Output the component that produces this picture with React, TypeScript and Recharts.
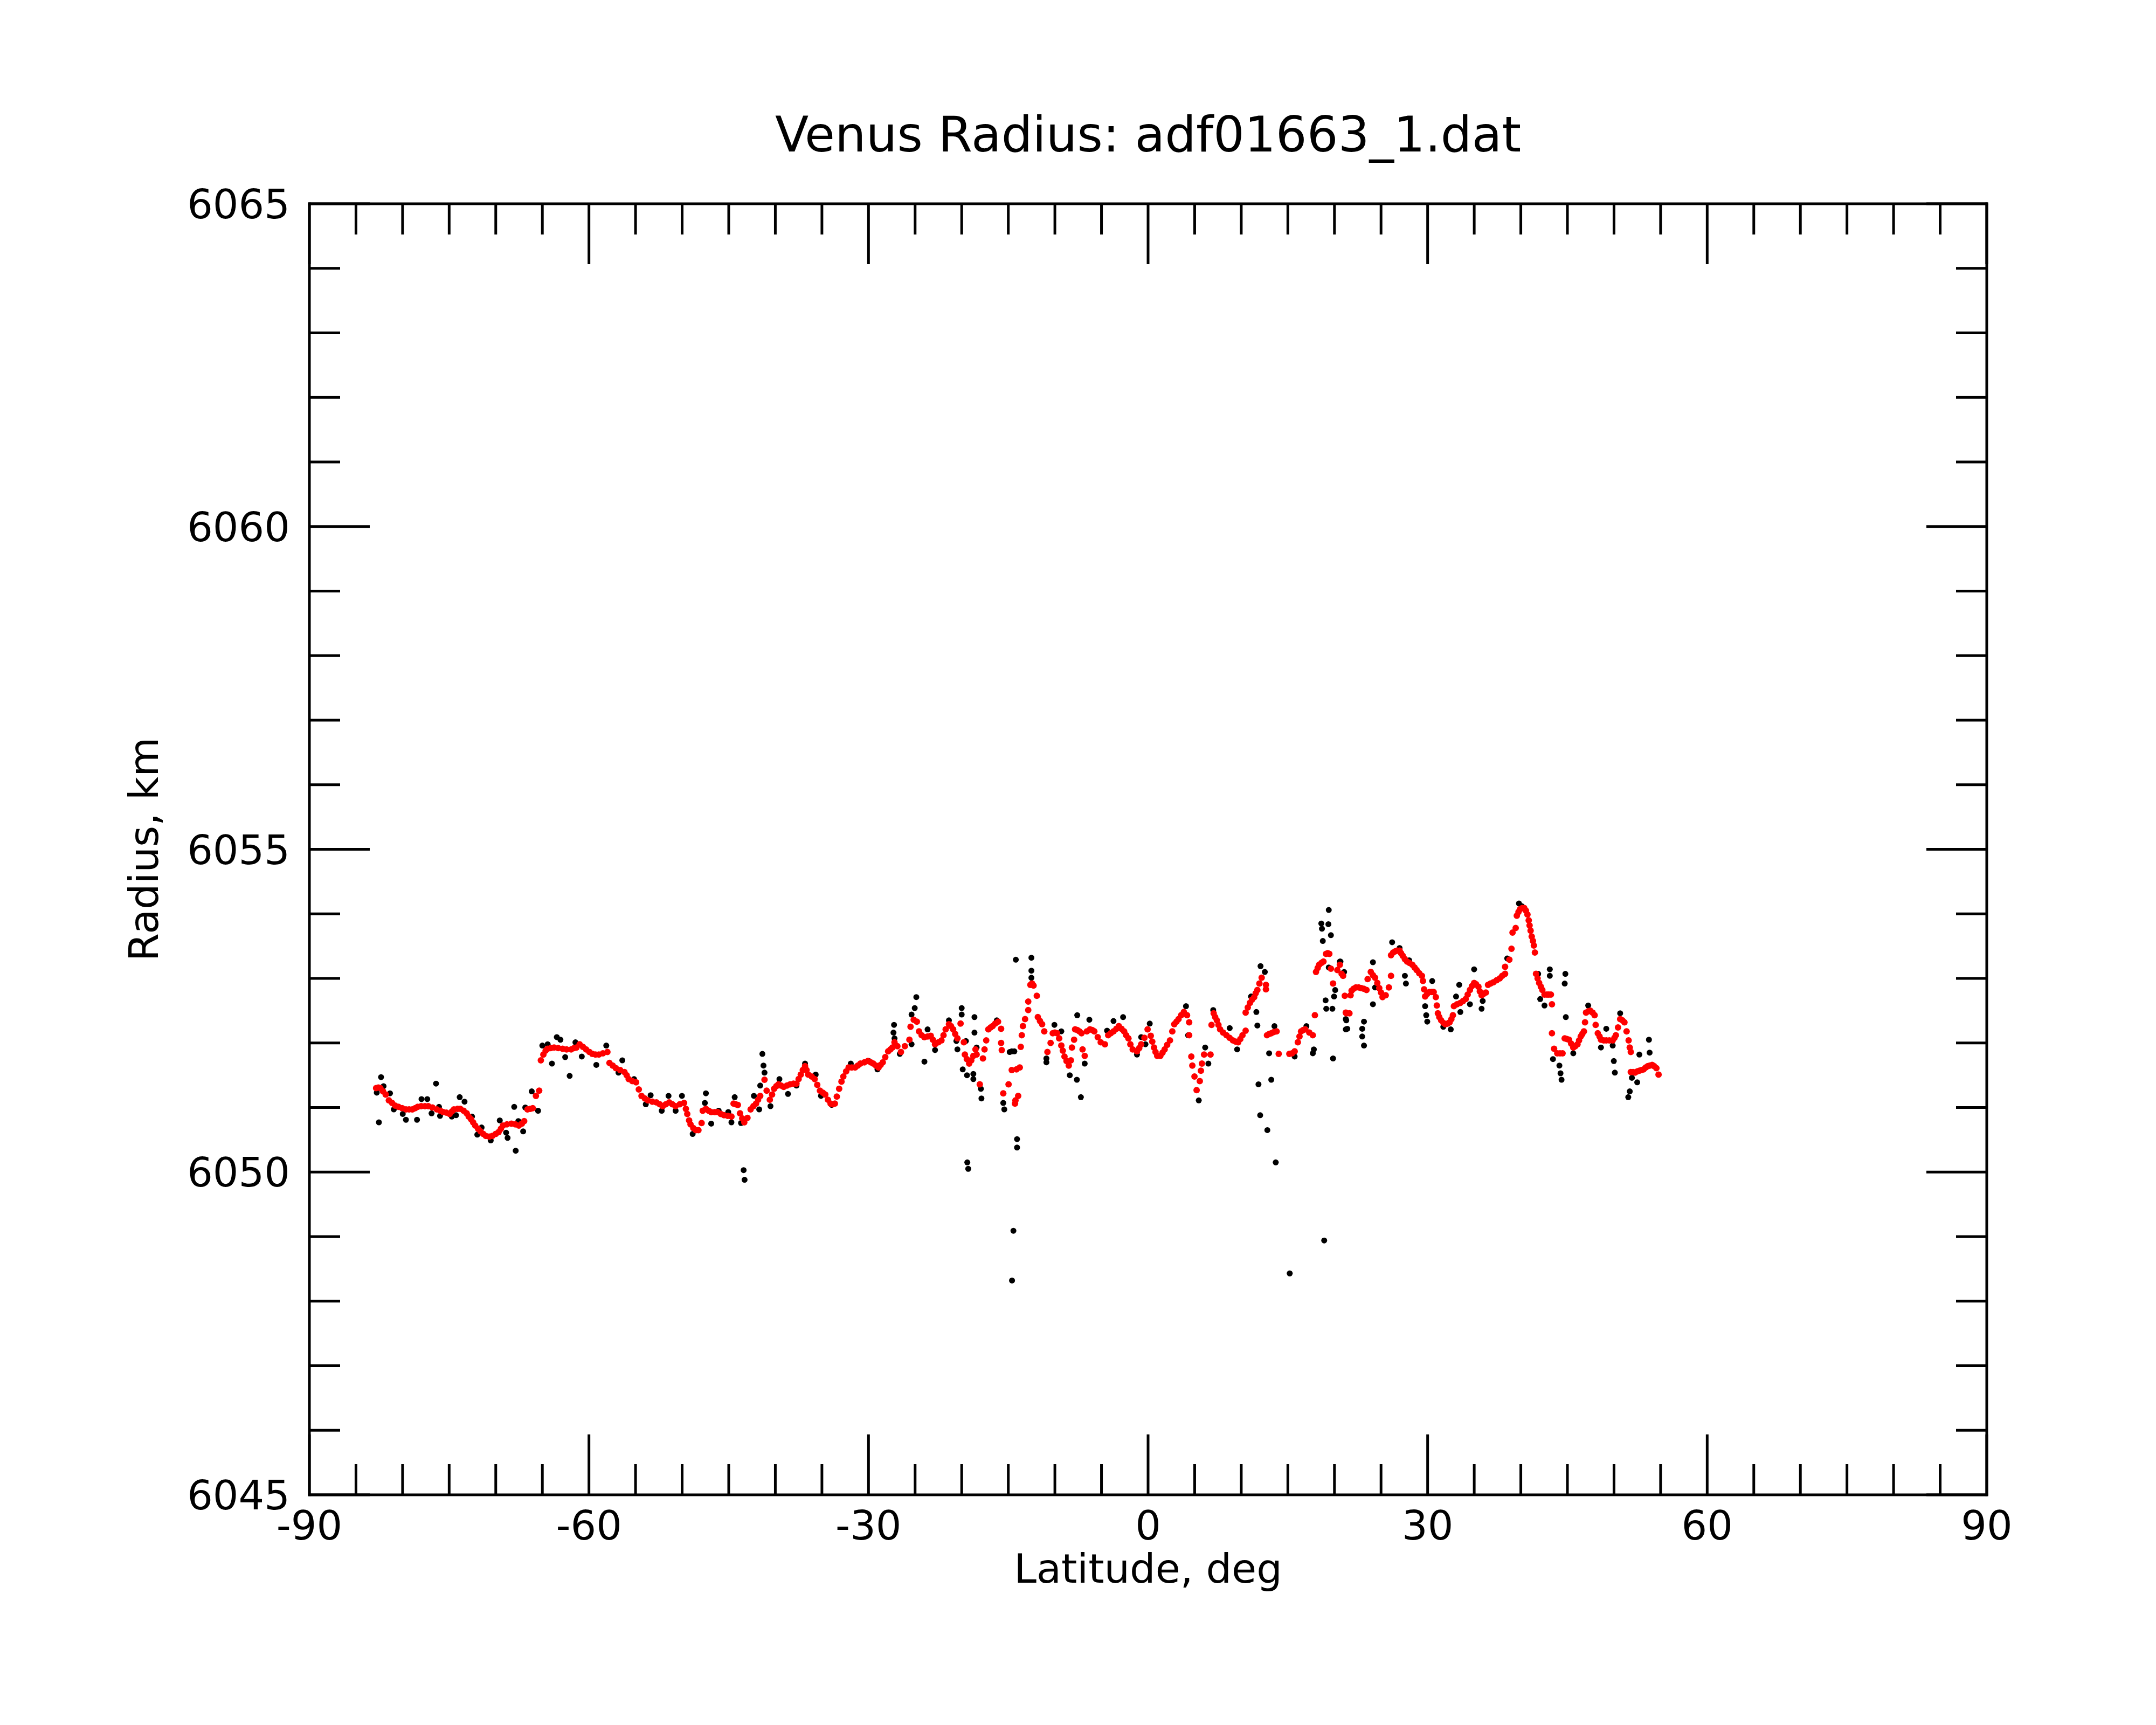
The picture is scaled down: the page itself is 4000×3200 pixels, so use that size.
import React from 'react';
import { ScatterChart, Scatter, XAxis, YAxis } from 'recharts';

const chartTitle = 'Venus Radius: adf01663_1.dat';
const xLabel = 'Latitude, deg';
const yLabel = 'Radius, km';

const latTicks = [
  -90, -85, -80, -75, -70, -65, -60, -55, -50, -45, -40, -35, -30, -25, -20, -15, -10, -5,
  0, 5, 10, 15, 20, 25, 30, 35, 40, 45, 50, 55, 60, 65, 70, 75, 80, 85, 90,
];
const radiusTicks = [
  6045, 6046, 6047, 6048, 6049, 6050, 6051, 6052, 6053, 6054, 6055,
  6056, 6057, 6058, 6059, 6060, 6061, 6062, 6063, 6064, 6065,
];

// smoothed profile (red), [latitude, radius]
const smoothSouth: [number, number][] = [
  [-82.84, 6051.30], [-82.6, 6051.31], [-82.38, 6051.30], [-82.1, 6051.25], [-81.81, 6051.20],
  [-81.47, 6051.11], [-81.13, 6051.07], [-80.8, 6051.03], [-80.44, 6051.01], [-80.05, 6050.99],
  [-79.64, 6050.97], [-79.3, 6050.97], [-78.95, 6050.97], [-78.65, 6050.99], [-78.38, 6051.01],
  [-78.0, 6051.02], [-77.6, 6051.02], [-77.24, 6051.02], [-76.8, 6051.00], [-76.32, 6050.97],
  [-75.95, 6050.95], [-75.64, 6050.93], [-75.3, 6050.92], [-74.95, 6050.90], [-74.7, 6050.94],
  [-74.49, 6050.97], [-74.1, 6050.98], [-73.81, 6050.98], [-73.45, 6050.95], [-73.12, 6050.91],
  [-72.9, 6050.86], [-72.66, 6050.82], [-72.43, 6050.77], [-72.21, 6050.72], [-71.9, 6050.67],
  [-71.63, 6050.63], [-71.35, 6050.59], [-71.06, 6050.56], [-70.7, 6050.55], [-70.38, 6050.56],
  [-70.0, 6050.59], [-69.69, 6050.62], [-69.45, 6050.67], [-69.23, 6050.72], [-68.8, 6050.74],
  [-68.32, 6050.75], [-67.9, 6050.74], [-67.52, 6050.72], [-67.2, 6050.75], [-66.95, 6050.79],
  [-66.6, 6050.97], [-66.3, 6050.98], [-66.03, 6050.99], [-65.69, 6051.18], [-65.34, 6051.26],
  [-65.16, 6051.73], [-64.89, 6051.82], [-64.65, 6051.88], [-64.43, 6051.91], [-64.1, 6051.92],
  [-63.74, 6051.93], [-63.3, 6051.92], [-62.83, 6051.91], [-62.4, 6051.90], [-61.91, 6051.90],
  [-61.6, 6051.92], [-61.34, 6051.93], [-61.0, 6051.98], [-60.65, 6051.94], [-60.31, 6051.90],
  [-59.95, 6051.86], [-59.63, 6051.83], [-59.3, 6051.82], [-58.94, 6051.82], [-58.5, 6051.84],
  [-58.02, 6051.86], [-57.8, 6051.69], [-57.45, 6051.65], [-57.11, 6051.61], [-56.65, 6051.58],
  [-56.19, 6051.55], [-55.95, 6051.50], [-55.74, 6051.44], [-55.35, 6051.41], [-54.94, 6051.39],
  [-54.65, 6051.28], [-54.36, 6051.18], [-54.0, 6051.14], [-53.68, 6051.11], [-53.2, 6051.09],
  [-52.76, 6051.08], [-52.4, 6051.05], [-52.08, 6051.02], [-51.75, 6051.05], [-51.39, 6051.08],
  [-51.05, 6051.05], [-50.7, 6051.02], [-50.25, 6051.05], [-49.79, 6051.07], [-49.6, 6050.98],
  [-49.45, 6050.90], [-49.25, 6050.80], [-49.1, 6050.74], [-48.8, 6050.68], [-48.53, 6050.65],
  [-48.25, 6050.65],
];

const smoothMid: [number, number][] = [
  [-47.91, 6050.76], [-47.79, 6050.95], [-47.45, 6050.98], [-47.15, 6050.95], [-46.88, 6050.93],
  [-46.5, 6050.93], [-46.19, 6050.93], [-45.85, 6050.90], [-45.51, 6050.88], [-45.1, 6050.87],
  [-44.71, 6050.86], [-44.48, 6051.06], [-44.25, 6051.05], [-44.02, 6051.04], [-43.79, 6050.91],
  [-43.55, 6050.83], [-43.33, 6050.77], [-42.99, 6050.84], [-42.65, 6050.97], [-42.35, 6051.02],
  [-42.07, 6051.06], [-41.85, 6051.12], [-41.62, 6051.18], [-41.16, 6051.43], [-40.93, 6051.26],
  [-40.59, 6051.12], [-40.35, 6051.20], [-40.13, 6051.29], [-39.9, 6051.33], [-39.67, 6051.36],
  [-39.4, 6051.34], [-39.1, 6051.32], [-38.75, 6051.34], [-38.41, 6051.36], [-38.05, 6051.37],
  [-37.73, 6051.37], [-37.5, 6051.44], [-37.27, 6051.51], [-37.05, 6051.58], [-36.81, 6051.64],
  [-36.65, 6051.58], [-36.47, 6051.51], [-36.1, 6051.48], [-35.78, 6051.44], [-35.5, 6051.35],
  [-35.21, 6051.26], [-34.9, 6051.23], [-34.64, 6051.20], [-34.35, 6051.12], [-34.07, 6051.06],
  [-33.84, 6051.05], [-33.61, 6051.06], [-33.4, 6051.17], [-33.15, 6051.29], [-32.9, 6051.40],
  [-32.7, 6051.48], [-32.4, 6051.56], [-32.13, 6051.62], [-31.8, 6051.62], [-31.44, 6051.62],
  [-31.15, 6051.65], [-30.87, 6051.68], [-30.45, 6051.70], [-30.07, 6051.72], [-29.75, 6051.70],
  [-29.49, 6051.68], [-29.2, 6051.65], [-28.92, 6051.62], [-28.7, 6051.66], [-28.47, 6051.70],
  [-28.2, 6051.78], [-27.89, 6051.87], [-27.65, 6051.90], [-27.44, 6051.93], [-27.21, 6052.01],
  [-26.9, 6051.95], [-26.52, 6051.86], [-26.1, 6051.95], [-25.61, 6052.05], [-25.49, 6052.25],
  [-25.15, 6052.36], [-24.81, 6052.33], [-24.58, 6052.18], [-24.3, 6052.12], [-24.0, 6052.09],
  [-23.65, 6052.10], [-23.32, 6052.11], [-23.1, 6052.05], [-22.86, 6051.98], [-22.5, 6052.01],
  [-22.17, 6052.04], [-21.95, 6052.12], [-21.72, 6052.21], [-21.37, 6052.29], [-21.15, 6052.26],
  [-20.92, 6052.21], [-20.7, 6052.14], [-20.46, 6052.07], [-20.12, 6052.30], [-19.77, 6052.01],
  [-19.66, 6051.82], [-19.45, 6051.75], [-19.2, 6051.68], [-18.97, 6051.73], [-18.75, 6051.80],
  [-18.52, 6051.90], [-18.4, 6051.82], [-18.06, 6051.36], [-17.72, 6051.76], [-17.55, 6051.90],
  [-17.37, 6052.04], [-17.14, 6052.21], [-16.9, 6052.24], [-16.68, 6052.26], [-16.4, 6052.30],
  [-16.1, 6052.33], [-15.77, 6052.22], [-15.77, 6052.00], [-15.7, 6051.89], [-15.54, 6051.22],
  [-14.97, 6051.36], [-14.63, 6051.58], [-14.28, 6051.06], [-14.23, 6051.11], [-14.12, 6051.59],
];

const smoothEquator: [number, number][] = [
  [-13.94, 6051.18], [-13.77, 6051.62], [-13.66, 6051.94], [-13.55, 6052.12], [-13.43, 6052.26],
  [-13.2, 6052.37], [-12.86, 6052.51], [-12.86, 6052.64], [-12.63, 6052.90], [-12.45, 6052.92],
  [-12.29, 6052.89], [-11.94, 6052.73], [-11.83, 6052.40], [-11.6, 6052.34], [-11.37, 6052.29],
  [-11.14, 6052.18], [-10.8, 6051.86], [-10.46, 6052.00], [-10.23, 6052.15], [-10.0, 6052.16],
  [-9.77, 6052.15], [-9.54, 6052.07], [-9.31, 6051.96], [-9.15, 6051.88], [-8.97, 6051.79],
  [-8.75, 6051.72], [-8.51, 6051.65], [-8.28, 6051.73], [-8.17, 6051.93], [-7.94, 6052.05],
  [-7.83, 6052.21], [-7.6, 6052.20], [-7.37, 6052.18], [-7.14, 6052.15], [-7.03, 6051.90],
  [-6.8, 6051.80], [-6.57, 6052.18], [-6.23, 6052.21], [-6.0, 6052.20], [-5.77, 6052.18],
  [-5.4, 6052.09], [-5.08, 6052.01], [-4.63, 6051.98], [-4.28, 6052.12], [-4.0, 6052.15],
  [-3.71, 6052.18], [-3.4, 6052.22], [-3.14, 6052.26], [-2.85, 6052.22], [-2.57, 6052.18],
  [-2.35, 6052.12], [-2.11, 6052.07], [-1.9, 6051.98], [-1.65, 6051.90], [-1.19, 6051.87],
  [-0.95, 6051.92], [-0.74, 6051.98], [-0.39, 6052.08], [-0.05, 6052.21], [0.29, 6052.11],
  [0.45, 6052.02], [0.64, 6051.93], [0.8, 6051.86], [0.98, 6051.80], [1.32, 6051.80],
  [1.55, 6051.85], [1.78, 6051.90], [2.05, 6051.97], [2.35, 6052.04], [2.6, 6052.18],
  [2.81, 6052.29], [3.05, 6052.33], [3.27, 6052.37], [3.55, 6052.43], [3.84, 6052.48],
  [4.18, 6052.43], [4.41, 6052.32], [4.41, 6052.12], [4.64, 6051.79], [4.75, 6051.65],
  [4.98, 6051.48], [5.21, 6051.27], [5.55, 6051.41], [5.67, 6051.57], [5.78, 6051.68],
  [6.01, 6051.82], [6.7, 6051.82], [6.81, 6052.28], [7.04, 6052.46], [7.2, 6052.40],
  [7.38, 6052.35], [7.55, 6052.28], [7.73, 6052.21], [8.05, 6052.16], [8.41, 6052.12],
  [8.75, 6052.08], [9.1, 6052.04], [9.4, 6052.02], [9.67, 6052.01], [9.9, 6052.06],
  [10.13, 6052.12], [10.47, 6052.19], [10.47, 6052.47], [10.7, 6052.55], [10.93, 6052.62],
  [11.15, 6052.67], [11.39, 6052.71], [11.55, 6052.77], [11.73, 6052.82], [11.95, 6052.92],
  [12.19, 6053.01], [12.65, 6052.90], [12.65, 6052.83], [12.76, 6052.12], [13.0, 6052.14],
  [13.22, 6052.15], [13.5, 6052.17], [13.79, 6052.18], [14.02, 6051.83], [15.16, 6051.83],
  [15.45, 6051.84], [15.73, 6051.87], [16.07, 6052.01], [16.25, 6052.10], [16.42, 6052.18],
  [16.65, 6052.20], [16.87, 6052.21], [17.3, 6052.16], [17.68, 6052.12], [17.9, 6052.43],
  [18.02, 6053.10], [18.2, 6053.16], [18.36, 6053.21], [18.6, 6053.24], [18.82, 6053.26],
  [19.1, 6053.38], [19.28, 6053.39], [19.45, 6053.38], [19.62, 6053.15], [19.85, 6052.92],
  [20.31, 6053.13], [20.58, 6053.21], [20.77, 6053.07], [20.93, 6053.04],
];

const smoothNorth: [number, number][] = [
  [21.11, 6052.73], [21.22, 6052.47], [21.27, 6052.46], [21.61, 6052.46], [21.73, 6052.74],
  [21.84, 6052.81], [22.05, 6052.84], [22.3, 6052.86], [22.6, 6052.86], [22.87, 6052.85],
  [23.15, 6052.84], [23.44, 6052.82], [23.56, 6052.99], [23.9, 6053.10], [24.13, 6053.05],
  [24.36, 6053.01], [24.6, 6052.93], [24.81, 6052.85], [25.0, 6052.78], [25.16, 6052.71],
  [25.5, 6052.74], [25.84, 6052.86], [26.07, 6053.04], [26.07, 6053.36], [26.3, 6053.40],
  [26.53, 6053.42], [26.75, 6053.43], [26.99, 6053.43], [27.15, 6053.39], [27.33, 6053.35],
  [27.55, 6053.30], [27.79, 6053.26], [28.05, 6053.24], [28.36, 6053.21], [28.6, 6053.17],
  [28.82, 6053.13], [29.1, 6053.08], [29.39, 6053.04], [29.5, 6052.96], [29.62, 6052.83],
  [29.73, 6052.72], [29.95, 6052.76], [30.19, 6052.79], [30.45, 6052.79], [30.65, 6052.79],
  [30.88, 6052.71], [30.99, 6052.58], [31.1, 6052.46], [31.25, 6052.40], [31.45, 6052.35],
  [31.7, 6052.31], [31.91, 6052.29], [32.15, 6052.30], [32.36, 6052.32], [32.55, 6052.37],
  [32.71, 6052.43], [32.82, 6052.57], [33.15, 6052.60], [33.51, 6052.62], [33.8, 6052.65],
  [34.08, 6052.68], [34.3, 6052.75], [34.54, 6052.82], [34.75, 6052.88], [34.99, 6052.93],
  [35.2, 6052.91], [35.45, 6052.87], [35.6, 6052.80], [35.79, 6052.74], [36.0, 6052.76],
  [36.25, 6052.78], [36.48, 6052.90], [36.75, 6052.92], [37.05, 6052.94], [37.4, 6052.97],
  [37.74, 6053.00], [38.0, 6053.04], [38.31, 6053.07], [38.31, 6053.18], [38.77, 6053.29],
  [39.0, 6053.46], [39.11, 6053.71], [39.45, 6053.78], [39.57, 6053.97], [39.75, 6054.03],
  [39.91, 6054.07], [40.15, 6054.09], [40.37, 6054.09], [40.55, 6054.05], [40.71, 6053.99],
  [40.85, 6053.90], [40.94, 6053.82], [41.05, 6053.74], [41.17, 6053.65], [41.3, 6053.58],
  [41.4, 6053.51], [41.51, 6053.40], [41.63, 6053.07], [41.8, 6053.00], [41.97, 6052.93],
  [42.15, 6052.87], [42.31, 6052.82], [42.54, 6052.75], [42.8, 6052.75], [43.0, 6052.75],
  [43.23, 6052.75], [43.34, 6052.60], [43.34, 6052.15], [43.57, 6051.91], [43.91, 6051.84],
  [44.2, 6051.84], [44.48, 6051.84], [44.71, 6052.07], [44.95, 6052.06], [45.17, 6052.05],
  [45.4, 6051.99], [45.63, 6051.93], [45.85, 6051.95], [46.08, 6051.98], [46.25, 6052.04],
  [46.43, 6052.10], [46.6, 6052.14], [46.77, 6052.18], [46.89, 6052.32], [47.0, 6052.47],
  [47.23, 6052.49], [47.46, 6052.50], [47.7, 6052.47], [47.92, 6052.43], [48.03, 6052.28],
  [48.26, 6052.15], [48.45, 6052.10], [48.6, 6052.05], [48.9, 6052.04], [49.17, 6052.04],
  [49.5, 6052.04], [49.86, 6052.04], [50.05, 6052.08], [50.2, 6052.12], [50.43, 6052.24],
  [50.66, 6052.37], [50.9, 6052.35], [51.12, 6052.32], [51.35, 6052.18], [51.57, 6052.04],
  [51.69, 6051.93], [51.8, 6051.86], [51.8, 6051.55], [52.05, 6051.55], [52.26, 6051.54],
  [52.5, 6051.56], [52.72, 6051.57], [52.95, 6051.58], [53.18, 6051.59], [53.4, 6051.62],
  [53.63, 6051.64], [53.85, 6051.65], [54.09, 6051.66], [54.3, 6051.64], [54.55, 6051.61],
  [54.78, 6051.51],
];

// raw radius samples (black), [latitude, radius]
const rawSouth: [number, number][] = [
  [-82.77, 6051.23], [-82.54, 6050.77], [-82.31, 6051.47], [-82.04, 6051.33], [-81.35, 6051.22],
  [-80.94, 6050.97], [-79.98, 6050.90], [-79.64, 6050.81], [-78.45, 6050.81], [-77.97, 6051.13],
  [-77.35, 6051.13], [-76.89, 6050.91], [-76.41, 6051.37], [-76.09, 6051.01], [-75.98, 6050.87],
  [-74.72, 6050.86], [-74.26, 6050.88], [-73.87, 6051.16], [-73.35, 6051.09], [-72.55, 6050.86],
  [-71.98, 6050.58], [-71.52, 6050.69], [-70.54, 6050.49], [-69.57, 6050.80], [-68.89, 6050.61],
  [-68.73, 6050.53], [-68.02, 6051.01], [-67.86, 6050.33], [-67.58, 6050.79], [-67.06, 6050.63],
  [-66.83, 6051.00], [-66.14, 6051.25], [-65.46, 6050.95], [-65.0, 6051.96], [-64.43, 6051.98],
  [-63.97, 6051.68], [-63.45, 6052.09], [-63.06, 6052.05], [-62.55, 6051.78], [-62.07, 6051.49],
  [-61.45, 6052.01], [-60.77, 6051.79], [-59.21, 6051.66], [-58.14, 6051.96], [-56.83, 6051.54],
  [-56.42, 6051.73], [-55.16, 6051.44], [-53.9, 6051.05], [-53.38, 6051.19], [-52.19, 6050.95],
  [-51.46, 6051.18], [-50.7, 6050.95], [-50.02, 6051.18], [-48.87, 6050.59],
];

const rawMid: [number, number][] = [
  [-47.56, 6051.07], [-47.45, 6051.22], [-46.88, 6050.75], [-46.08, 6050.95], [-45.05, 6050.93],
  [-44.71, 6050.77], [-44.36, 6051.16], [-43.68, 6050.76], [-43.4, 6050.03], [-43.3, 6049.88],
  [-42.3, 6051.18], [-41.73, 6050.97], [-41.62, 6051.34], [-41.39, 6051.83], [-41.27, 6051.65],
  [-41.16, 6051.54], [-40.52, 6051.02], [-39.56, 6051.44], [-38.64, 6051.21], [-37.73, 6051.34],
  [-36.81, 6051.68], [-35.67, 6051.51], [-35.1, 6051.18], [-33.95, 6051.04], [-31.9, 6051.68],
  [-29.95, 6051.72], [-29.04, 6051.59], [-27.32, 6052.16], [-27.26, 6052.28], [-27.21, 6052.07],
  [-26.64, 6051.83], [-25.38, 6051.98], [-25.38, 6052.44], [-25.04, 6052.54], [-24.87, 6052.71],
  [-24.0, 6051.71], [-23.66, 6052.21], [-22.86, 6051.89], [-21.37, 6052.35], [-20.57, 6052.03],
  [-20.46, 6051.90], [-20.0, 6052.54], [-20.0, 6052.44], [-19.89, 6051.59], [-19.55, 6052.03],
  [-19.43, 6051.50], [-19.4, 6050.15], [-19.3, 6050.05], [-18.75, 6051.52], [-18.75, 6051.44],
  [-18.63, 6052.40], [-18.63, 6052.16], [-18.4, 6051.93], [-17.94, 6051.29], [-17.88, 6051.14],
  [-16.23, 6052.35], [-15.54, 6051.07], [-15.43, 6050.97], [-14.85, 6051.86], [-14.63, 6051.87],
  [-14.6, 6048.32], [-14.45, 6049.09], [-14.06, 6050.51], [-14.06, 6050.38],
];

const rawEquator: [number, number][] = [
  [-14.35, 6051.87], [-14.19, 6053.29], [-12.52, 6053.32], [-12.52, 6053.12], [-12.52, 6053.01],
  [-10.91, 6051.76], [-10.91, 6051.70], [-10.05, 6052.28], [-9.31, 6052.18], [-8.4, 6051.50],
  [-7.64, 6051.43], [-7.6, 6052.43], [-7.21, 6051.16], [-6.8, 6051.68], [-6.3, 6052.36],
  [-4.4, 6052.19], [-3.71, 6052.34], [-2.68, 6052.40], [-1.19, 6051.82], [-0.74, 6052.09],
  [-0.28, 6051.98], [0.18, 6052.30], [4.07, 6052.57], [4.3, 6052.12], [5.44, 6051.11],
  [6.13, 6051.93], [6.47, 6051.68], [6.99, 6052.51], [8.76, 6052.23], [9.56, 6051.90],
  [11.05, 6052.72], [11.62, 6052.48], [11.73, 6052.27], [11.85, 6051.36], [12.03, 6050.88],
  [12.07, 6053.19], [12.53, 6053.10], [12.8, 6050.65], [12.99, 6051.84], [13.22, 6051.43],
  [13.56, 6052.26], [13.7, 6050.15], [15.2, 6048.43], [15.73, 6051.79], [16.99, 6052.26],
  [17.68, 6051.84], [17.79, 6051.90], [18.59, 6053.85], [18.66, 6053.77], [18.75, 6053.58],
  [18.9, 6048.94], [19.05, 6052.66], [19.12, 6052.53], [19.35, 6053.84], [19.39, 6054.06],
  [19.39, 6053.17], [19.62, 6053.67], [19.78, 6052.53], [19.85, 6051.76], [19.96, 6052.72],
  [20.08, 6052.82], [20.58, 6053.26], [20.65, 6053.26],
];

const rawNorth: [number, number][] = [
  [21.04, 6053.10], [21.22, 6052.37], [21.22, 6052.21], [21.27, 6052.35], [21.38, 6052.22],
  [22.98, 6052.22], [22.98, 6052.10], [23.17, 6052.33], [23.17, 6051.96], [24.13, 6053.25],
  [24.13, 6052.60], [24.36, 6052.86], [26.19, 6053.56], [26.99, 6053.47], [27.56, 6053.04],
  [27.67, 6052.92], [28.02, 6053.28], [29.73, 6052.57], [29.85, 6052.43], [29.96, 6052.33],
  [30.49, 6052.96], [31.68, 6052.25], [32.48, 6052.21], [33.05, 6052.72], [33.39, 6052.90],
  [33.51, 6052.48], [34.54, 6052.60], [34.99, 6053.14], [35.79, 6052.53], [35.91, 6052.65],
  [38.54, 6053.31], [39.8, 6054.16], [40.1, 6054.12], [41.86, 6053.07], [42.08, 6052.68],
  [42.54, 6052.58], [43.11, 6053.14], [43.11, 6053.04], [43.45, 6051.75], [44.14, 6051.65],
  [44.26, 6051.53], [44.37, 6051.43], [44.71, 6052.92], [44.78, 6053.07], [44.83, 6052.40],
  [45.63, 6051.84], [47.23, 6052.58], [48.6, 6051.93], [49.17, 6052.22], [49.86, 6051.96],
  [49.98, 6051.72], [50.09, 6051.54], [50.66, 6052.46], [51.53, 6051.16], [51.69, 6051.25],
  [51.92, 6051.46], [52.49, 6051.39], [52.72, 6051.82], [53.75, 6052.05], [53.82, 6051.85],
];

const toPoints = (rows: [number, number][]) => rows.map(([lat, radius]) => ({ lat, radius }));
const rawPoints = toPoints([...rawSouth, ...rawMid, ...rawEquator, ...rawNorth]);
const smoothPoints = toPoints([...smoothSouth, ...smoothMid, ...smoothEquator, ...smoothNorth]);

const FONT = '"DejaVu Sans", Verdana, sans-serif';
const W = 4000;
const H = 3200;
const PLOT = { left: 574, right: 314, top: 378, bottom: 427 };
const MAJOR = 112;
const MINOR = 57;
const axisLine = { stroke: '#000', strokeWidth: 5, strokeLinecap: 'square' as const };

const isMajorLat = (v: number) => v % 30 === 0;
const isMajorRad = (v: number) => (v - 6045) % 5 === 0;

const bottomTick = (p: any) => {
  const major = isMajorLat(p.payload.value);
  return (
    <g>
      <line x1={p.x} x2={p.x} y1={p.y} y2={p.y - (major ? MAJOR : MINOR)} stroke="#000" strokeWidth={5} />
      {major && (
        <text x={p.x} y={p.y + 83} textAnchor="middle" fontSize={75} fontFamily={FONT} fill="#000">
          {p.payload.value}
        </text>
      )}
    </g>
  );
};

const topTick = (p: any) => {
  const major = isMajorLat(p.payload.value);
  return <line x1={p.x} x2={p.x} y1={p.y} y2={p.y + (major ? MAJOR : MINOR)} stroke="#000" strokeWidth={5} />;
};

const leftTick = (p: any) => {
  const major = isMajorRad(p.payload.value);
  return (
    <g>
      <line x1={p.x} x2={p.x + (major ? MAJOR : MINOR)} y1={p.y} y2={p.y} stroke="#000" strokeWidth={5} />
      {major && (
        <text x={p.x - 36} y={p.y + 27} textAnchor="end" fontSize={75} fontFamily={FONT} fill="#000">
          {p.payload.value}
        </text>
      )}
    </g>
  );
};

const rightTick = (p: any) => {
  const major = isMajorRad(p.payload.value);
  return <line x1={p.x} x2={p.x - (major ? MAJOR : MINOR)} y1={p.y} y2={p.y} stroke="#000" strokeWidth={5} />;
};

const blackDot = (p: any) => <circle cx={p.cx} cy={p.cy} r={5.5} fill="#000" />;
const redDot = (p: any) => <circle cx={p.cx} cy={p.cy} r={6} fill="#ff0000" />;

export default function App() {
  const plotCenterX = PLOT.left + (W - PLOT.left - PLOT.right) / 2;
  const plotCenterY = PLOT.top + (H - PLOT.top - PLOT.bottom) / 2;

  return (
    <div style={{ position: 'absolute', left: 0, top: 0, width: W, height: H, background: '#fff' }}>
      <ScatterChart width={W} height={H} margin={{ top: 0, right: 0, bottom: 0, left: 0 }}>
        <XAxis
          xAxisId="bottom"
          orientation="bottom"
          type="number"
          dataKey="lat"
          domain={[-90, 90]}
          ticks={latTicks}
          interval={0}
          allowDataOverflow
          height={PLOT.bottom}
          tickSize={0}
          tickMargin={0}
          tickLine={false}
          axisLine={axisLine}
          tick={bottomTick}
        />
        <XAxis
          xAxisId="top"
          orientation="top"
          type="number"
          dataKey="lat"
          domain={[-90, 90]}
          ticks={latTicks}
          interval={0}
          allowDataOverflow
          height={PLOT.top}
          tickSize={0}
          tickMargin={0}
          tickLine={false}
          axisLine={axisLine}
          tick={topTick}
        />
        <YAxis
          yAxisId="left"
          orientation="left"
          type="number"
          dataKey="radius"
          domain={[6045, 6065]}
          ticks={radiusTicks}
          interval={0}
          allowDataOverflow
          width={PLOT.left}
          tickSize={0}
          tickMargin={0}
          tickLine={false}
          axisLine={axisLine}
          tick={leftTick}
        />
        <YAxis
          yAxisId="right"
          orientation="right"
          type="number"
          dataKey="radius"
          domain={[6045, 6065]}
          ticks={radiusTicks}
          interval={0}
          allowDataOverflow
          width={PLOT.right}
          tickSize={0}
          tickMargin={0}
          tickLine={false}
          axisLine={axisLine}
          tick={rightTick}
        />
        <Scatter
          name="raw"
          data={rawPoints}
          xAxisId="bottom"
          yAxisId="left"
          shape={blackDot}
          isAnimationActive={false}
        />
        <Scatter
          name="smoothed"
          data={smoothPoints}
          xAxisId="bottom"
          yAxisId="left"
          shape={redDot}
          isAnimationActive={false}
        />
      </ScatterChart>
      <svg
        width={W}
        height={H}
        style={{ position: 'absolute', left: 0, top: 0, pointerEvents: 'none' }}
      >
        <text x={plotCenterX} y={281} textAnchor="middle" fontSize={91} fontFamily={FONT} fill="#000">
          {chartTitle}
        </text>
        <text x={plotCenterX} y={2936} textAnchor="middle" fontSize={75} fontFamily={FONT} fill="#000">
          {xLabel}
        </text>
        <text
          transform={`translate(293, ${plotCenterY}) rotate(-90)`}
          textAnchor="middle"
          fontSize={75}
          fontFamily={FONT}
          fill="#000"
        >
          {yLabel}
        </text>
      </svg>
    </div>
  );
}
